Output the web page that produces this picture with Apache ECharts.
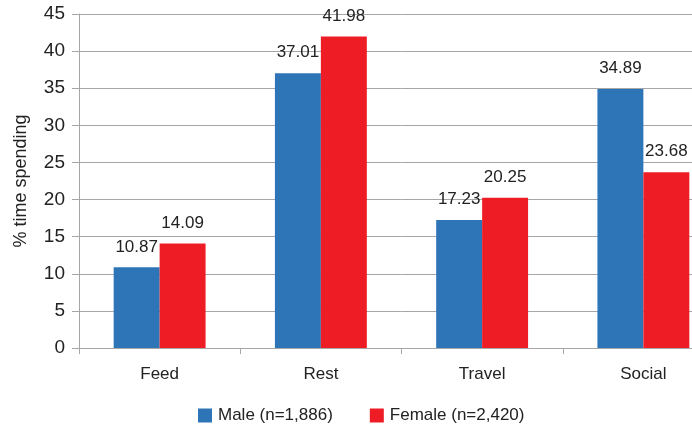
<!DOCTYPE html>
<html>
<head>
<meta charset="utf-8">
<script src="https://cdn.jsdelivr.net/npm/echarts@6/dist/echarts.min.js"></script>
<style>html,body{margin:0;padding:0;background:#fff;overflow:hidden;width:692px;height:437px}#c{width:724px;height:437px}</style>
</head>
<body>
<div id="c"></div>
<script>
const categories = ['Feed', 'Rest', 'Travel', 'Social'];
const maleValues = [10.87, 37.01, 17.23, 34.89];
const femaleValues = [14.09, 41.98, 20.25, 23.68];
const seriesNames = ['Male (n=1,886)', 'Female (n=2,420)'];
const yTicks = {min: 0, max: 45, interval: 5};
const yAxisTitle = '% time spending';

const font = 'Liberation Sans, Arial, Helvetica, sans-serif';
const chart = echarts.init(document.getElementById('c'), null, {renderer: 'canvas'});
const labelStyle = {show: true, position: 'top', distance: 12, fontSize: 17, color: '#222', fontFamily: font};
chart.setOption({
  animation: false,
  grid: {left: 79, top: 14, right: 0, bottom: 89, containLabel: false},
  legend: {
    bottom: 8, left: 193, itemWidth: 14, itemHeight: 14, itemGap: 37,
    icon: 'rect',
    textStyle: {fontSize: 17, color: '#222', fontFamily: font, padding: [0, 0, 0, 1]},
    data: seriesNames
  },
  xAxis: {
    type: 'category', data: categories,
    axisLine: {show: true, lineStyle: {color: '#a6a6a6', width: 1}},
    axisTick: {show: true, length: 6, alignWithLabel: false, lineStyle: {color: '#a6a6a6'}},
    axisLabel: {fontSize: 17, color: '#222', fontFamily: font, margin: 18}
  },
  yAxis: {
    type: 'value', min: yTicks.min, max: yTicks.max, interval: yTicks.interval,
    name: yAxisTitle, nameLocation: 'middle', nameGap: 49, nameRotate: 90,
    nameTextStyle: {fontSize: 18, color: '#222', fontFamily: font},
    axisLine: {show: true, lineStyle: {color: '#a6a6a6', width: 1}},
    axisTick: {show: true, length: 7, lineStyle: {color: '#a6a6a6'}},
    axisLabel: {fontSize: 19, color: '#222', fontFamily: font, margin: 14},
    splitLine: {show: true, lineStyle: {color: '#a6a6a6', width: 1}}
  },
  series: [
    {name: seriesNames[0], type: 'bar', data: maleValues, barWidth: '28.5%', barGap: '0%',
     itemStyle: {color: '#2E75B8'}, label: labelStyle},
    {name: seriesNames[1], type: 'bar', data: femaleValues, barWidth: '28.5%', barGap: '0%',
     itemStyle: {color: '#EE1D25'}, label: labelStyle}
  ]
});
</script>
</body>
</html>
